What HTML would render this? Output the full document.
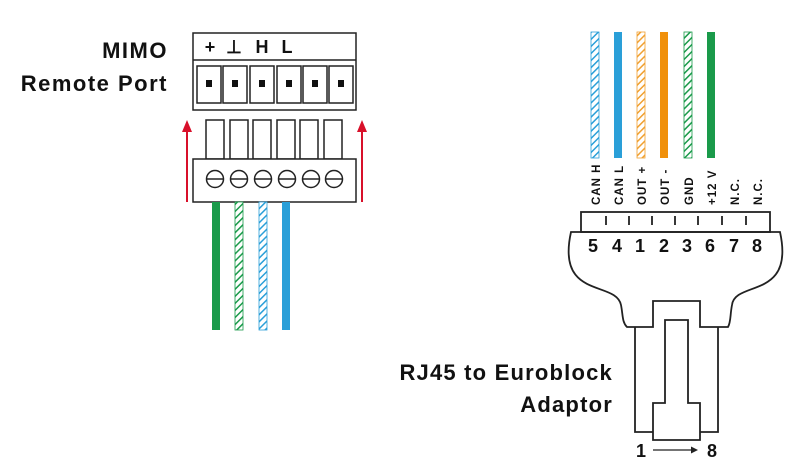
<!DOCTYPE html>
<html><head><meta charset="utf-8"><style>
html,body{margin:0;padding:0;background:#fff;}
svg{display:block;font-family:"Liberation Sans",sans-serif;}
</style></head><body>
<svg width="796" height="473" viewBox="0 0 796 473" xmlns="http://www.w3.org/2000/svg">
<defs>
<pattern id="hg" width="5" height="5" patternUnits="userSpaceOnUse" patternTransform="rotate(45)"><rect width="5" height="5" fill="#fff"/><rect width="1.5" height="5" fill="#1a9a4a"/></pattern>
<pattern id="hb" width="5" height="5" patternUnits="userSpaceOnUse" patternTransform="rotate(45)"><rect width="5" height="5" fill="#fff"/><rect width="1.5" height="5" fill="#2a9fd8"/></pattern>
<pattern id="ho" width="5" height="5" patternUnits="userSpaceOnUse" patternTransform="rotate(45)"><rect width="5" height="5" fill="#fff"/><rect width="1.5" height="5" fill="#f0a030"/></pattern>
</defs>
<g fill="#111" font-weight="bold" text-anchor="end" font-size="22">
<text x="168" y="58" letter-spacing="1.5">MIMO</text>
<text x="168" y="91" letter-spacing="1.5">Remote Port</text>
<text x="613" y="380" letter-spacing="1.2">RJ45 to Euroblock</text>
<text x="613" y="412" letter-spacing="1.2">Adaptor</text>
</g>
<g fill="none" stroke="#222" stroke-width="1.5">
<rect x="193" y="33" width="163" height="77" fill="#fff"/>
<line x1="193" y1="60" x2="356" y2="60"/>
<rect x="197" y="66" width="24" height="37"/><rect x="223" y="66" width="24" height="37"/><rect x="250" y="66" width="24" height="37"/><rect x="277" y="66" width="24" height="37"/><rect x="303" y="66" width="24" height="37"/><rect x="329" y="66" width="24" height="37"/>
<rect x="206" y="120" width="18" height="39"/><rect x="230" y="120" width="18" height="39"/><rect x="253" y="120" width="18" height="39"/><rect x="277" y="120" width="18" height="39"/><rect x="300" y="120" width="18" height="39"/><rect x="324" y="120" width="18" height="39"/>
<rect x="193" y="159" width="163" height="43" fill="#fff"/>
<circle cx="215" cy="179" r="8.5"/><circle cx="239" cy="179" r="8.5"/><circle cx="263" cy="179" r="8.5"/><circle cx="287" cy="179" r="8.5"/><circle cx="311" cy="179" r="8.5"/><circle cx="334" cy="179" r="8.5"/>
<path d="M206.5 179h17M230.5 179h17M254.5 179h17M278.5 179h17M302.5 179h17M325.5 179h17"/>
</g>
<g fill="#111">
<rect x="206" y="80" width="6" height="7"/><rect x="232" y="80" width="6" height="7"/><rect x="259" y="80" width="6" height="7"/><rect x="286" y="80" width="6" height="7"/><rect x="312" y="80" width="6" height="7"/><rect x="338" y="80" width="6" height="7"/>
</g>
<g fill="#111" font-size="18" font-weight="bold" text-anchor="middle">
<text x="210" y="53">+</text><text x="234" y="53">⊥</text><text x="262" y="53">H</text><text x="287" y="53">L</text>
</g>
<g stroke="#d8102a" stroke-width="2"><line x1="187" y1="202" x2="187" y2="128"/><line x1="362" y1="202" x2="362" y2="128"/></g>
<g fill="#d8102a"><path d="M187 120l-5 12h10z"/><path d="M362 120l-5 12h10z"/></g>
<rect x="212" y="202" width="8" height="128" fill="#1a9a4a"/>
<rect x="235" y="202" width="8" height="128" fill="url(#hg)" stroke="#1a9a4a" stroke-width="0.8"/>
<rect x="259" y="202" width="8" height="128" fill="url(#hb)" stroke="#2a9fd8" stroke-width="0.8"/>
<rect x="282" y="202" width="8" height="128" fill="#2a9fd8"/>
<rect x="591" y="32" width="8" height="126" fill="url(#hb)" stroke="#2a9fd8" stroke-width="0.8"/>
<rect x="614" y="32" width="8" height="126" fill="#2a9fd8"/>
<rect x="637" y="32" width="8" height="126" fill="url(#ho)" stroke="#f0a030" stroke-width="0.8"/>
<rect x="660" y="32" width="8" height="126" fill="#f0900a"/>
<rect x="684" y="32" width="8" height="126" fill="url(#hg)" stroke="#1a9a4a" stroke-width="0.8"/>
<rect x="707" y="32" width="8" height="126" fill="#1a9a4a"/>
<g fill="#111" font-size="11.5" font-weight="bold" letter-spacing="1">
<text transform="translate(600,205) rotate(-90)">CAN H</text>
<text transform="translate(623,205) rotate(-90)">CAN L</text>
<text transform="translate(646,205) rotate(-90)">OUT +</text>
<text transform="translate(669,205) rotate(-90)">OUT -</text>
<text transform="translate(693,205) rotate(-90)">GND</text>
<text transform="translate(716,205) rotate(-90)">+12 V</text>
<text transform="translate(739,205) rotate(-90)">N.C.</text>
<text transform="translate(762,205) rotate(-90)">N.C.</text>
</g>
<g fill="none" stroke="#222" stroke-width="1.8">
<rect x="581" y="212" width="189" height="20"/>
<path d="M606 216v9M629 216v9M652 216v9M675 216v9M698 216v9M722 216v9M746 216v9"/>
<path d="M571 232 H780 C795 300 735 280 732 305 C730 315 731 322 728 327 H700 V301 H653 V327 H627 C622 322 623 315 621 305 C616 280 556 300 571 232 Z"/>
<path d="M635 327 V432 H653 M700 432 H718 V327"/>
<path d="M665 403 V320 H688 V403 H700 V440 H653 V403 Z"/>
<line x1="653" y1="450" x2="692" y2="450" stroke-width="1.2"/>
</g>
<path d="M698 450l-7 -3.5v7z" fill="#222"/>
<g fill="#111" font-size="18" font-weight="bold" text-anchor="middle">
<text x="593" y="252">5</text><text x="617" y="252">4</text><text x="640" y="252">1</text><text x="664" y="252">2</text><text x="687" y="252">3</text><text x="710" y="252">6</text><text x="734" y="252">7</text><text x="757" y="252">8</text>
<text x="641" y="457">1</text><text x="712" y="457">8</text>
</g>
</svg>
</body></html>
